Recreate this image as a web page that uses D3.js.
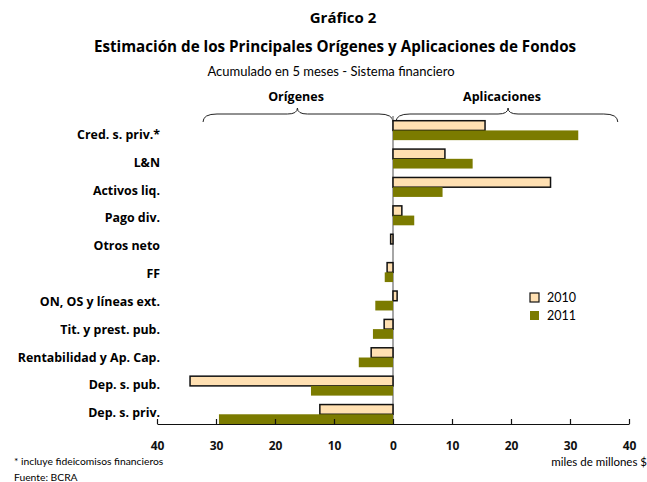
<!DOCTYPE html>
<html>
<head>
<meta charset="utf-8">
<script src="https://cdn.jsdelivr.net/npm/d3@7"></script>
<style>
  body { margin: 0; background: #fff; }
  svg { font-family: Lato, "Open Sans", sans-serif; }
  .b { font-family: "Open Sans", Lato, sans-serif; font-weight: bold; }
</style>
</head>
<body>
<script>
// categories top to bottom
var categories = ["Cred. s. priv.*", "L&N", "Activos liq.", "Pago div.", "Otros neto", "FF",
  "ON, OS y líneas ext.", "Tit. y prest. pub.", "Rentabilidad y Ap. Cap.", "Dep. s. pub.", "Dep. s. priv."];
var series = ["2010", "2011"];
var values2010 = [15.6, 8.8, 26.7, 1.5, -0.4, -1.0, 0.7, -1.5, -3.7, -34.4, -12.4];
var values2011 = [31.4, 13.5, 8.4, 3.6, 0, -1.4, -3.0, -3.4, -5.8, -13.9, -29.5];
var ticks = [-40, -30, -20, -10, 0, 10, 20, 30, 40];
var colors = { "2010": "#ffe0b2", "2011": "#7b7b00" };

var w = 647, h = 482;
var svg = d3.select("body").append("svg").attr("width", w).attr("height", h);

var x = d3.scaleLinear().domain([-40, 40]).range([157, 629]);
var y = d3.scaleBand().domain(categories).range([120.7, 424]).paddingInner(0.315).paddingOuter(0);
var ySub = d3.scaleBand().domain(series).range([0, y.bandwidth()]);
var yLab = d3.scalePoint().domain(categories).range([134.5, 413]);

// titles
svg.append("text").attr("class", "b").attr("x", 343).attr("y", 23).attr("text-anchor", "middle")
  .attr("font-size", "15px").text("Gráfico 2");
svg.append("text").attr("class", "b").attr("x", 335).attr("y", 52).attr("text-anchor", "middle")
  .attr("font-size", "15.2px")
  .text("Estimación de los Principales Orígenes y Aplicaciones de Fondos");
svg.append("text").attr("x", 331).attr("y", 76).attr("text-anchor", "middle")
  .attr("font-size", "13px").text("Acumulado en 5 meses - Sistema financiero");

// group headers with braces
svg.append("text").attr("class", "b").attr("x", 296).attr("y", 101).attr("text-anchor", "middle")
  .attr("font-size", "12.5px").text("Orígenes");
svg.append("text").attr("class", "b").attr("x", 502).attr("y", 101).attr("text-anchor", "middle")
  .attr("font-size", "12.5px").text("Aplicaciones");

function brace(x1, xm, x2, yTop) {
  var yb = yTop + 6;
  return "M" + x1 + "," + (yb + 8) +
    " Q" + x1 + "," + yb + " " + (x1 + 14) + "," + yb +
    " L" + (xm - 10) + "," + yb +
    " Q" + xm + "," + yb + " " + xm + "," + yTop +
    " Q" + xm + "," + yb + " " + (xm + 10) + "," + yb +
    " L" + (x2 - 14) + "," + yb +
    " Q" + x2 + "," + yb + " " + x2 + "," + (yb + 8);
}
svg.append("path").attr("d", brace(x(-32.2), x(-16.2), x(0), 108))
  .attr("fill", "none").attr("stroke", "#222").attr("stroke-width", 1);
svg.append("path").attr("d", brace(x(0.5), x(19.5), x(38.1), 108))
  .attr("fill", "none").attr("stroke", "#222").attr("stroke-width", 1);

// zero line
svg.append("line").attr("x1", x(0)).attr("x2", x(0)).attr("y1", 116).attr("y2", 424)
  .attr("stroke", "#888").attr("stroke-width", 1.5);

// bars
var rows = categories.map(function(c, i) {
  return { cat: c, vals: [{ s: "2010", v: values2010[i] }, { s: "2011", v: values2011[i] }] };
});

var g = svg.selectAll("g.row").data(rows).enter().append("g")
  .attr("transform", function(d) { return "translate(0," + y(d.cat) + ")"; });

g.selectAll("rect").data(function(d) { return d.vals; }).enter().append("rect")
  .attr("x", function(d) { return x(Math.min(0, d.v)); })
  .attr("y", function(d) { return ySub(d.s); })
  .attr("width", function(d) { return Math.abs(x(d.v) - x(0)); })
  .attr("height", ySub.bandwidth())
  .attr("fill", function(d) { return colors[d.s]; })
  .attr("stroke", function(d) { return d.s == "2010" && d.v != 0 ? "#111" : "none"; })
  .attr("stroke-width", 1.5);

// category labels
svg.selectAll("text.cat").data(categories).enter().append("text")
  .attr("class", "cat b")
  .attr("x", 160)
  .attr("y", function(d) { return yLab(d); })
  .attr("dy", "0.35em")
  .attr("text-anchor", "end")
  .attr("font-size", "12.4px")
  .text(function(d) { return d; });

// x axis
var axis = svg.append("g").attr("transform", "translate(0,424)")
  .call(d3.axisBottom(x).tickValues(ticks).tickSizeInner(-5).tickSizeOuter(0).tickPadding(17)
    .tickFormat(function(d) { return Math.abs(d); }));
axis.select(".domain").attr("stroke", "#111").attr("stroke-width", 1.2);
axis.selectAll(".tick line").attr("stroke", "#111").attr("stroke-width", 1.2);
axis.selectAll(".tick text").attr("font-family", "'Open Sans', sans-serif").attr("font-weight", "bold")
  .attr("font-size", "12px").attr("fill", "#111");

// legend
var leg = svg.selectAll("g.leg").data(series).enter().append("g")
  .attr("transform", function(d, i) { return "translate(530," + (293 + i * 18) + ")"; });
leg.append("rect").attr("width", 9).attr("height", 9)
  .attr("fill", function(d) { return colors[d]; })
  .attr("stroke", function(d) { return d == "2010" ? "#111" : "none"; })
  .attr("stroke-width", 1.2);
leg.append("text").attr("x", 17).attr("y", 5).attr("dy", "0.35em")
  .attr("font-size", "12.5px").text(function(d) { return d; });

// notes
svg.append("text").attr("x", 14).attr("y", 465).attr("font-size", "10.3px")
  .text("* incluye fideicomisos financieros");
svg.append("text").attr("x", 14).attr("y", 481).attr("font-size", "10.3px")
  .text("Fuente: BCRA");
svg.append("text").attr("x", 647).attr("y", 466).attr("text-anchor", "end").attr("font-size", "11.5px")
  .text("miles de millones $");
</script>
</body>
</html>
